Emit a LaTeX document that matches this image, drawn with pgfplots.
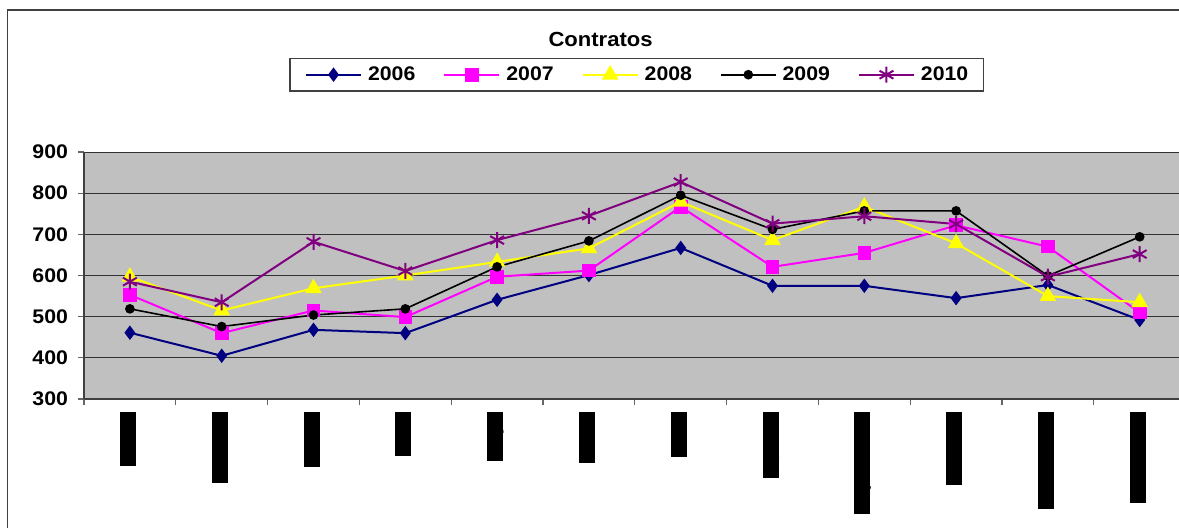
\documentclass[border=0pt]{standalone}
\usepackage{fontspec}
\setmainfont{Liberation Sans}[FakeStretch=1.08]
\newfontfamily\monthfamily{Liberation Sans}[FakeStretch=1.08]
\usepackage{pgfplots}
\pgfplotsset{compat=1.18}

\definecolor{plotbg}{RGB}{192,192,192}
\definecolor{c2006}{RGB}{0,0,128}
\definecolor{c2007}{RGB}{255,0,255}
\definecolor{c2008}{RGB}{255,255,0}
\definecolor{c2009}{RGB}{0,0,0}
\definecolor{c2010}{RGB}{128,0,128}

\newcommand\tickfont{\fontsize{9.85}{11}\selectfont\bfseries}
\newcommand\monthfont{\monthfamily\fontsize{8.5}{10}\selectfont\bfseries}

\begin{document}
\begin{tikzpicture}
\path[use as bounding box] (0,0) rectangle (589.5pt,263.5pt);
\clip (0,0) rectangle (589.5pt,263.5pt);
\draw[black!75, line width=0.75pt] (3.75pt,-5pt) |- (600pt,258.5pt);
\begin{axis}[
    scale only axis,
    width=550.8pt, height=123.5pt,
    at={(42pt,64pt)}, anchor=south west,
    xmin=-0.5, xmax=11.5, ymin=300, ymax=900,
    ytick={300,400,...,900},
    xtick={-0.5,0.5,...,11.5},
    xticklabels={},
    extra x ticks={0,1,...,11},
    extra x tick labels={Enero,Febrero,Marzo,Abril,Mayo,Junio,Julio,Agosto,Septiembre,Octubre,Noviembre,Diciembre},
    extra x tick style={
        major tick length=0pt, grid=none,
        tick label style={yshift=-6.5pt, xshift=-1pt, rotate=90, anchor=east,
            fill=black, text=black,
            inner xsep=0.5pt, inner ysep=0pt, text height=6.5pt, text depth=1.5pt,
            font=\monthfont},
    },
    axis background/.style={fill=plotbg},
    ymajorgrids,
    grid style={black!80, line width=0.5pt},
    axis x line*=bottom, axis y line*=left,
    axis line style={black!75, line width=0.75pt},
    tick align=outside, major tick length=3pt,
    tick style={black!60, line width=0.6pt},
    /pgf/number format/assume math mode=true,
    yticklabel style={font=\tickfont, xshift=-1.5pt},
    title={\fontsize{10.2}{12}\selectfont\bfseries Contratos},
    title style={at={(0.4689,1.378)}, anchor=base, inner sep=0pt},
    legend columns=5,
    legend style={at={(0.5017,1.313)}, anchor=center,
        draw=black!75, line width=0.6pt, fill=white,
        font=\tickfont, inner xsep=7.5pt, inner ysep=4pt,
        nodes={inner sep=0pt},
        /tikz/every odd column/.append style={column sep=3pt},
        /tikz/every even column/.append style={column sep=14pt}},
    legend image code/.code={\draw[mark repeat=2, mark phase=2]
        plot coordinates {(0pt,0pt) (13.75pt,0pt) (27.5pt,0pt)};},
    clip=false,
]
\addplot[c2006, line width=1pt, mark=diamond*, mark size=2.8pt, mark options={solid, fill=c2006}]
  coordinates {(0,461) (1,405) (2,468) (3,460) (4,541) (5,601) (6,667) (7,575) (8,575) (9,545) (10,577) (11,492)};
\addlegendentry{2006}
\addplot[c2007, line width=1pt, mark=square*, mark size=2.9pt, mark options={solid, fill=c2007}]
  coordinates {(0,553) (1,460) (2,515) (3,499) (4,597) (5,612) (6,767) (7,621) (8,655) (9,722) (10,670) (11,510)};
\addlegendentry{2007}
\addplot[c2008, line width=1pt, mark=triangle*, mark size=3.8pt, mark options={solid, fill=c2008}]
  coordinates {(0,597) (1,515) (2,569) (3,600) (4,633) (5,666) (6,779) (7,686) (8,767) (9,678) (10,550) (11,535)};
\addlegendentry{2008}
\addplot[c2009, line width=0.8pt, mark=*, mark size=2pt, mark options={solid, fill=c2009}]
  coordinates {(0,519) (1,476) (2,504) (3,519) (4,621) (5,684) (6,795) (7,712) (8,757) (9,757) (10,599) (11,694)};
\addlegendentry{2009}
\addplot[c2010, line width=1pt, mark=asterisk, mark size=4pt, mark options={solid}]
  coordinates {(0,585) (1,535) (2,682) (3,611) (4,686) (5,745) (6,827) (7,726) (8,744) (9,725) (10,597) (11,652)};
\addlegendentry{2010}
\end{axis}
\end{tikzpicture}
\end{document}
